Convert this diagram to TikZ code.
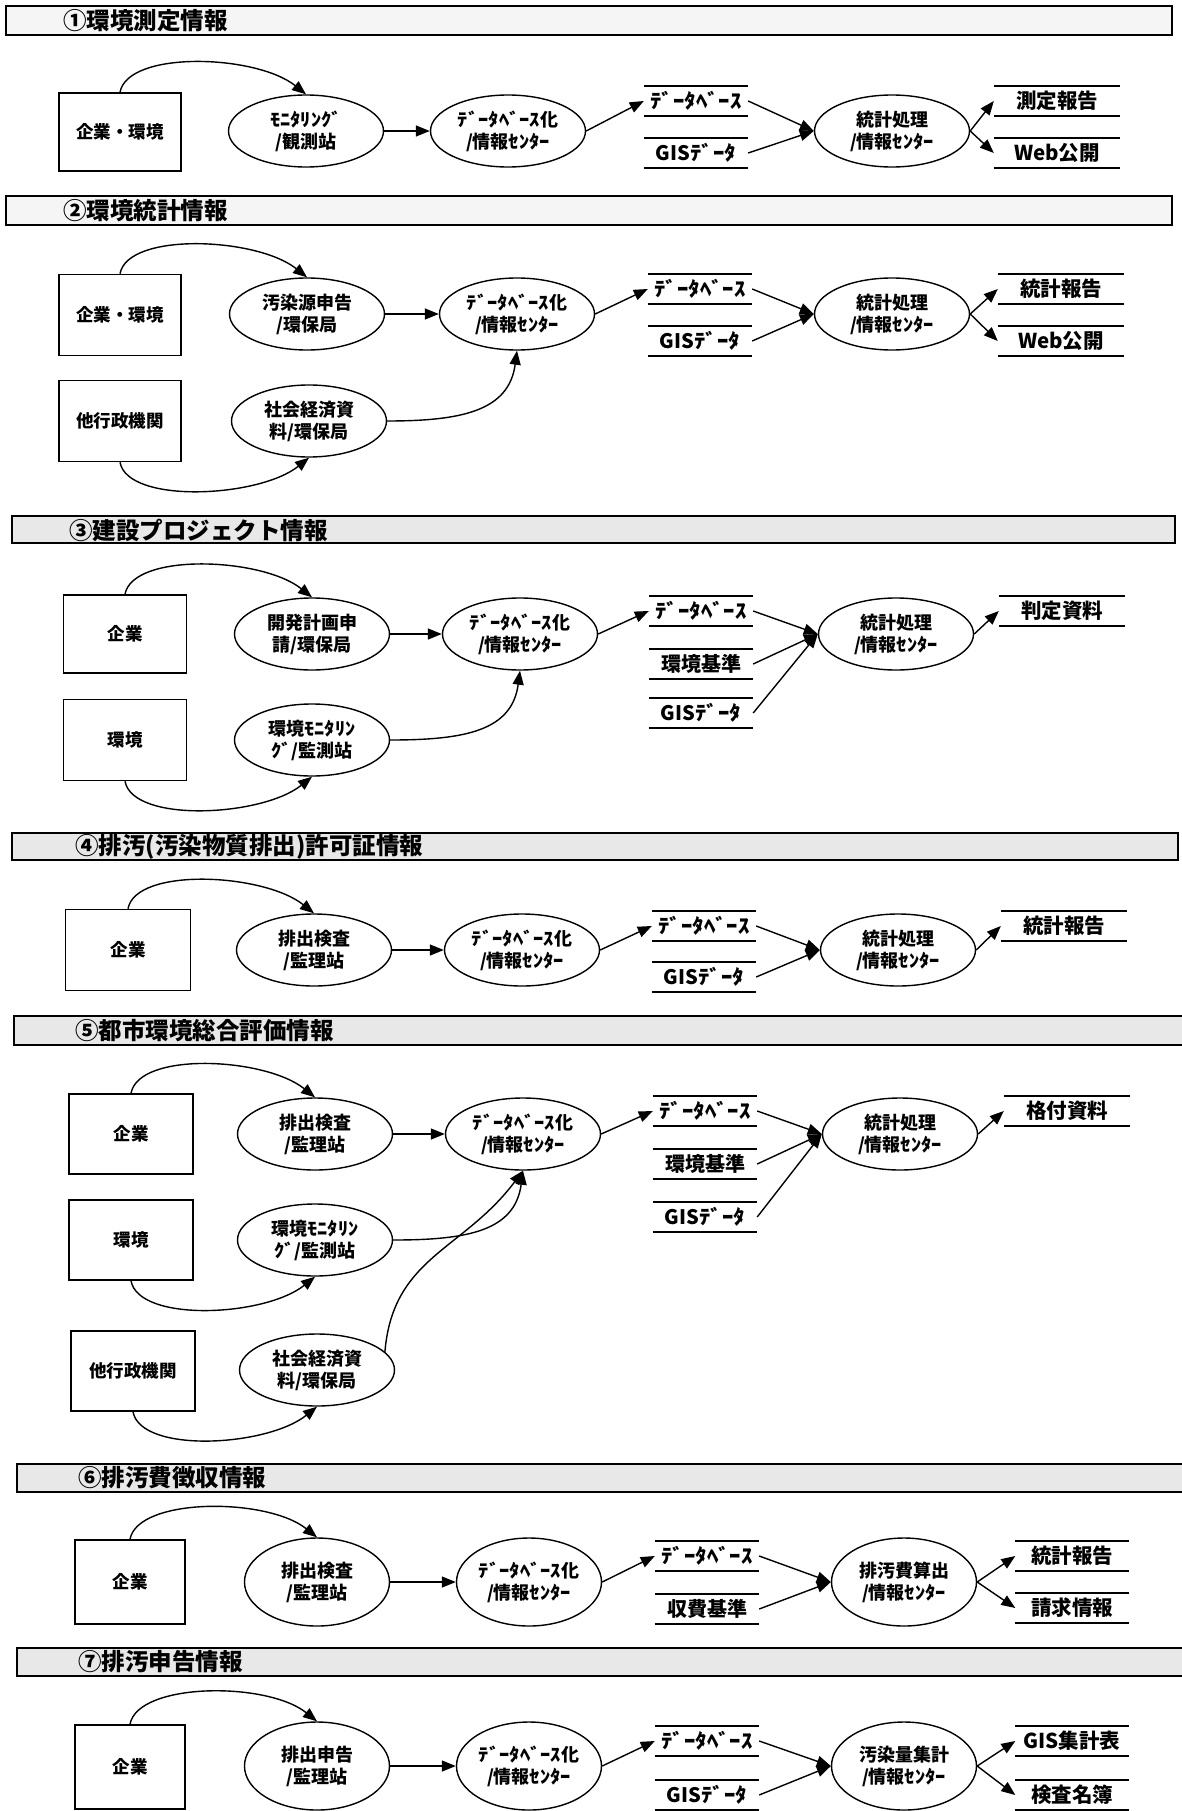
\documentclass[tikz,border=0pt]{standalone}
\usepackage{fontspec}
\usepackage{graphicx}
\setmainfont{Noto Sans CJK JP}
\usetikzlibrary{shapes.geometric,arrows.meta}
\newcommand\hk[1]{\scalebox{1.14}[1]{#1}}
\begin{document}
\begin{tikzpicture}[x=1pt,y=-1pt,
  srcbox/.style={draw, line width=1.6pt, minimum width=122pt, minimum height=78pt, inner sep=0pt, font=\bfseries\fontsize{17.5}{22}\selectfont},
  proc/.style={ellipse, draw, line width=1.4pt, minimum width=155pt, minimum height=72pt, inner sep=0pt, align=center, font=\bfseries\fontsize{18}{22}\selectfont},
  procs/.style={proc, minimum width=145pt, minimum height=88pt},
  store/.style={minimum width=104pt, minimum height=29pt, inner sep=0pt, font=\bfseries\fontsize{20}{20}\selectfont},
  outp/.style={store, minimum width=126pt, font=\bfseries\fontsize{20.5}{20}\selectfont},
  hdr/.style={draw, line width=1.2pt, fill=black!9},
  hdrl/.style={draw, line width=1.2pt, fill=black!4},
  title/.style={anchor=west, inner sep=0pt, font=\bfseries\fontsize{23.5}{25}\selectfont},
  flow/.style={line width=1.4pt, -{Triangle[length=14pt,width=11pt]}},
  bar/.style={line width=1.7pt},
]
\useasboundingbox[fill=white] (0,0) rectangle (1181,1811);

% ---------- Section 1 ----------
\draw[hdrl] (6,6) rectangle (1172,35);
\node[title] (t1) at (63,21) {①環境測定情報};
\node[srcbox] (b1) at (120,132) {企業・環境};
\node[proc] (e1) at (306,131) {\hk{ﾓﾆﾀﾘﾝｸﾞ}\\/観測站};
\node[proc] (d1) at (508,131) {\hk{ﾃﾞｰﾀﾍﾞｰｽ}化\\/情報\hk{ｾﾝﾀｰ}};
\node[store] (s1a) at (696,101) {\hk{ﾃﾞｰﾀﾍﾞｰｽ}};
\node[store] (s1b) at (696,153) {GIS\hk{ﾃﾞｰﾀ}};
\node[proc] (p1) at (892,131) {統計処理\\/情報\hk{ｾﾝﾀｰ}};
\node[outp] (o1a) at (1057,101) {測定報告};
\node[outp] (o1b) at (1057,153) {Web公開};
\draw[flow] (b1.north) .. controls +(8,-42) and +(-50,-40) .. (e1.north);
\draw[flow] (e1) -- (d1);
\draw[flow] (d1.east) -- (s1a.west);
\draw[flow] (s1a.east) -- (p1.west);
\draw[flow] (s1b.east) -- (p1.west);
\draw[flow] (p1.east) -- (o1a.west);
\draw[flow] (p1.east) -- (o1b.west);

% ---------- Section 2 ----------
\draw[hdrl] (6,196) rectangle (1172,225);
\node[title] (t2) at (63,211) {②環境統計情報};
\node[srcbox, minimum height=81pt] (b2a) at (120,315) {企業・環境};
\node[srcbox, minimum height=81pt] (b2b) at (120,421) {他行政機関};
\node[proc] (e2a) at (307,314) {汚染源申告\\/環保局};
\node[proc] (e2b) at (309,421) {社会経済資\\料/環保局};
\node[proc] (d2) at (517,314) {\hk{ﾃﾞｰﾀﾍﾞｰｽ}化\\/情報\hk{ｾﾝﾀｰ}};
\node[store] (s2a) at (700,289) {\hk{ﾃﾞｰﾀﾍﾞｰｽ}};
\node[store] (s2b) at (700,341) {GIS\hk{ﾃﾞｰﾀ}};
\node[proc] (p2) at (892,314) {統計処理\\/情報\hk{ｾﾝﾀｰ}};
\node[outp] (o2a) at (1061,289) {統計報告};
\node[outp] (o2b) at (1061,341) {Web公開};
\draw[flow] (b2a.north) .. controls +(8,-42) and +(-50,-40) .. (e2a.north);
\draw[flow] (b2b.south) .. controls +(8,42) and +(-50,40) .. (e2b.south);
\draw[flow] (e2a) -- (d2);
\draw[flow] (e2b.east) .. controls +(75,0) and +(-8,60) .. (d2.south);
\draw[flow] (d2.east) -- (s2a.west);
\draw[flow] (s2a.east) -- (p2.west);
\draw[flow] (s2b.east) -- (p2.west);
\draw[flow] (p2.east) -- (o2a.west);
\draw[flow] (p2.east) -- (o2b.west);

% ---------- Section 3 ----------
\draw[hdr] (12,516) rectangle (1175,543);
\node[title] (t3) at (69,530) {③建設プロジェクト情報};
\node[srcbox, minimum width=123pt] (b3a) at (125,634) {企業};
\node[srcbox, minimum width=123pt, minimum height=81pt] (b3b) at (125,740) {環境};
\node[proc] (e3a) at (312,634) {開発計画申\\請/環保局};
\node[proc] (e3b) at (312,740) {環境\hk{ﾓﾆﾀﾘﾝ}\\\hk{ｸﾞ}/監測站};
\node[proc] (d3) at (520,634) {\hk{ﾃﾞｰﾀﾍﾞｰｽ}化\\/情報\hk{ｾﾝﾀｰ}};
\node[store] (s3a) at (701,611) {\hk{ﾃﾞｰﾀﾍﾞｰｽ}};
\node[store] (s3b) at (701,664) {環境基準};
\node[store] (s3c) at (701,713) {GIS\hk{ﾃﾞｰﾀ}};
\node[proc] (p3) at (896,634) {統計処理\\/情報\hk{ｾﾝﾀｰ}};
\node[outp] (o3) at (1062,611) {判定資料};
\draw[flow] (b3a.north) .. controls +(8,-42) and +(-50,-40) .. (e3a.north);
\draw[flow] (b3b.south) .. controls +(8,42) and +(-50,40) .. (e3b.south);
\draw[flow] (e3a) -- (d3);
\draw[flow] (e3b.east) .. controls +(75,0) and +(-8,60) .. (d3.south);
\draw[flow] (d3.east) -- (s3a.west);
\draw[flow] (s3a.east) -- (p3.west);
\draw[flow] (s3b.east) -- (p3.west);
\draw[flow] (s3c.east) -- (p3.west);
\draw[flow] (p3.east) -- (o3.west);

% ---------- Section 4 ----------
\draw[hdr] (12,833) rectangle (1178,860);
\node[title] (t4) at (75,847) {④排汚(汚染物質排出)許可証情報};
\node[srcbox, minimum width=125pt, minimum height=81pt] (b4) at (128,950) {企業};
\node[proc] (e4) at (314,950) {排出検査\\/監理站};
\node[proc] (d4) at (522,950) {\hk{ﾃﾞｰﾀﾍﾞｰｽ}化\\/情報\hk{ｾﾝﾀｰ}};
\node[store] (s4a) at (704,926) {\hk{ﾃﾞｰﾀﾍﾞｰｽ}};
\node[store] (s4b) at (704,977) {GIS\hk{ﾃﾞｰﾀ}};
\node[proc] (p4) at (898,950) {統計処理\\/情報\hk{ｾﾝﾀｰ}};
\node[outp] (o4) at (1064,926) {統計報告};
\draw[flow] (b4.north) .. controls +(8,-42) and +(-50,-40) .. (e4.north);
\draw[flow] (e4) -- (d4);
\draw[flow] (d4.east) -- (s4a.west);
\draw[flow] (s4a.east) -- (p4.west);
\draw[flow] (s4b.east) -- (p4.west);
\draw[flow] (p4.east) -- (o4.west);

% ---------- Section 5 ----------
\draw[hdr] (14,1016) rectangle (1190,1045);
\node[title] (t5) at (75,1031) {⑤都市環境総合評価情報};
\node[srcbox, minimum width=124pt, minimum height=80pt] (b5a) at (131,1134) {企業};
\node[srcbox, minimum width=124pt, minimum height=80pt] (b5b) at (131,1240) {環境};
\node[srcbox, minimum width=124pt, minimum height=80pt] (b5c) at (133,1371) {他行政機関};
\node[proc] (e5a) at (315,1134) {排出検査\\/監理站};
\node[proc] (e5b) at (315,1240) {環境\hk{ﾓﾆﾀﾘﾝ}\\\hk{ｸﾞ}/監測站};
\node[proc] (e5c) at (317,1370) {社会経済資\\料/環保局};
\node[proc] (d5) at (523,1134) {\hk{ﾃﾞｰﾀﾍﾞｰｽ}化\\/情報\hk{ｾﾝﾀｰ}};
\node[store] (s5a) at (705,1111) {\hk{ﾃﾞｰﾀﾍﾞｰｽ}};
\node[store] (s5b) at (705,1164) {環境基準};
\node[store] (s5c) at (705,1217) {GIS\hk{ﾃﾞｰﾀ}};
\node[proc] (p5) at (900,1134) {統計処理\\/情報\hk{ｾﾝﾀｰ}};
\node[outp] (o5) at (1067,1111) {格付資料};
\draw[flow] (b5a.north) .. controls +(8,-42) and +(-50,-40) .. (e5a.north);
\draw[flow] (b5b.south) .. controls +(8,42) and +(-50,40) .. (e5b.south);
\draw[flow] (b5c.south) .. controls +(8,42) and +(-50,40) .. (e5c.south);
\draw[flow] (e5a) -- (d5);
\draw[flow] (e5b.east) .. controls +(75,0) and +(-8,60) .. (d5.south);
\draw[flow] (e5c.15) .. controls +(8,-95) and +(-60,80) .. (d5.south);
\draw[flow] (d5.east) -- (s5a.west);
\draw[flow] (s5a.east) -- (p5.west);
\draw[flow] (s5b.east) -- (p5.west);
\draw[flow] (s5c.east) -- (p5.west);
\draw[flow] (p5.east) -- (o5.west);

% ---------- Section 6 ----------
\draw[hdr] (17,1464) rectangle (1190,1492);
\node[title] (t6) at (78,1478) {⑥排汚費徴収情報};
\node[srcbox, minimum width=110pt, minimum height=84pt] (b6) at (130,1582) {企業};
\node[procs] (e6) at (317,1582) {排出検査\\/監理站};
\node[procs] (d6) at (529,1582) {\hk{ﾃﾞｰﾀﾍﾞｰｽ}化\\/情報\hk{ｾﾝﾀｰ}};
\node[store] (s6a) at (707,1556) {\hk{ﾃﾞｰﾀﾍﾞｰｽ}};
\node[store] (s6b) at (707,1609) {収費基準};
\node[procs] (p6) at (904,1582) {排汚費算出\\/情報\hk{ｾﾝﾀｰ}};
\node[outp, minimum width=113pt] (o6a) at (1072,1556) {統計報告};
\node[outp, minimum width=113pt] (o6b) at (1072,1608) {請求情報};
\draw[flow] (b6.north) .. controls +(8,-42) and +(-50,-40) .. (e6.north);
\draw[flow] (e6) -- (d6);
\draw[flow] (d6.east) -- (s6a.west);
\draw[flow] (s6a.east) -- (p6.west);
\draw[flow] (s6b.east) -- (p6.west);
\draw[flow] (p6.east) -- (o6a.west);
\draw[flow] (p6.east) -- (o6b.west);

% ---------- Section 7 ----------
\draw[hdr] (17,1648) rectangle (1190,1676);
\node[title] (t7) at (78,1662) {⑦排汚申告情報};
\node[srcbox, minimum width=110pt, minimum height=84pt] (b7) at (130,1767) {企業};
\node[procs] (e7) at (317,1766) {排出申告\\/監理站};
\node[procs] (d7) at (529,1766) {\hk{ﾃﾞｰﾀﾍﾞｰｽ}化\\/情報\hk{ｾﾝﾀｰ}};
\node[store] (s7a) at (707,1741) {\hk{ﾃﾞｰﾀﾍﾞｰｽ}};
\node[store] (s7b) at (707,1795) {GIS\hk{ﾃﾞｰﾀ}};
\node[procs] (p7) at (904,1766) {汚染量集計\\/情報\hk{ｾﾝﾀｰ}};
\node[outp, minimum width=113pt] (o7a) at (1072,1741) {GIS集計表};
\node[outp, minimum width=113pt] (o7b) at (1072,1795) {検査名簿};
\draw[flow] (b7.north) .. controls +(8,-42) and +(-50,-40) .. (e7.north);
\draw[flow] (e7) -- (d7);
\draw[flow] (d7.east) -- (s7a.west);
\draw[flow] (s7a.east) -- (p7.west);
\draw[flow] (s7b.east) -- (p7.west);
\draw[flow] (p7.east) -- (o7a.west);
\draw[flow] (p7.east) -- (o7b.west);

% store bars
\foreach \n in {s1a,s1b,o1a,o1b,s2a,s2b,o2a,o2b,s3a,s3b,s3c,o3,s4a,s4b,o4,s5a,s5b,s5c,o5,s6a,s6b,o6a,o6b,s7a,s7b,o7a,o7b}
  \draw[bar] (\n.north west) -- (\n.north east) (\n.south west) -- (\n.south east);
\end{tikzpicture}
\end{document}
